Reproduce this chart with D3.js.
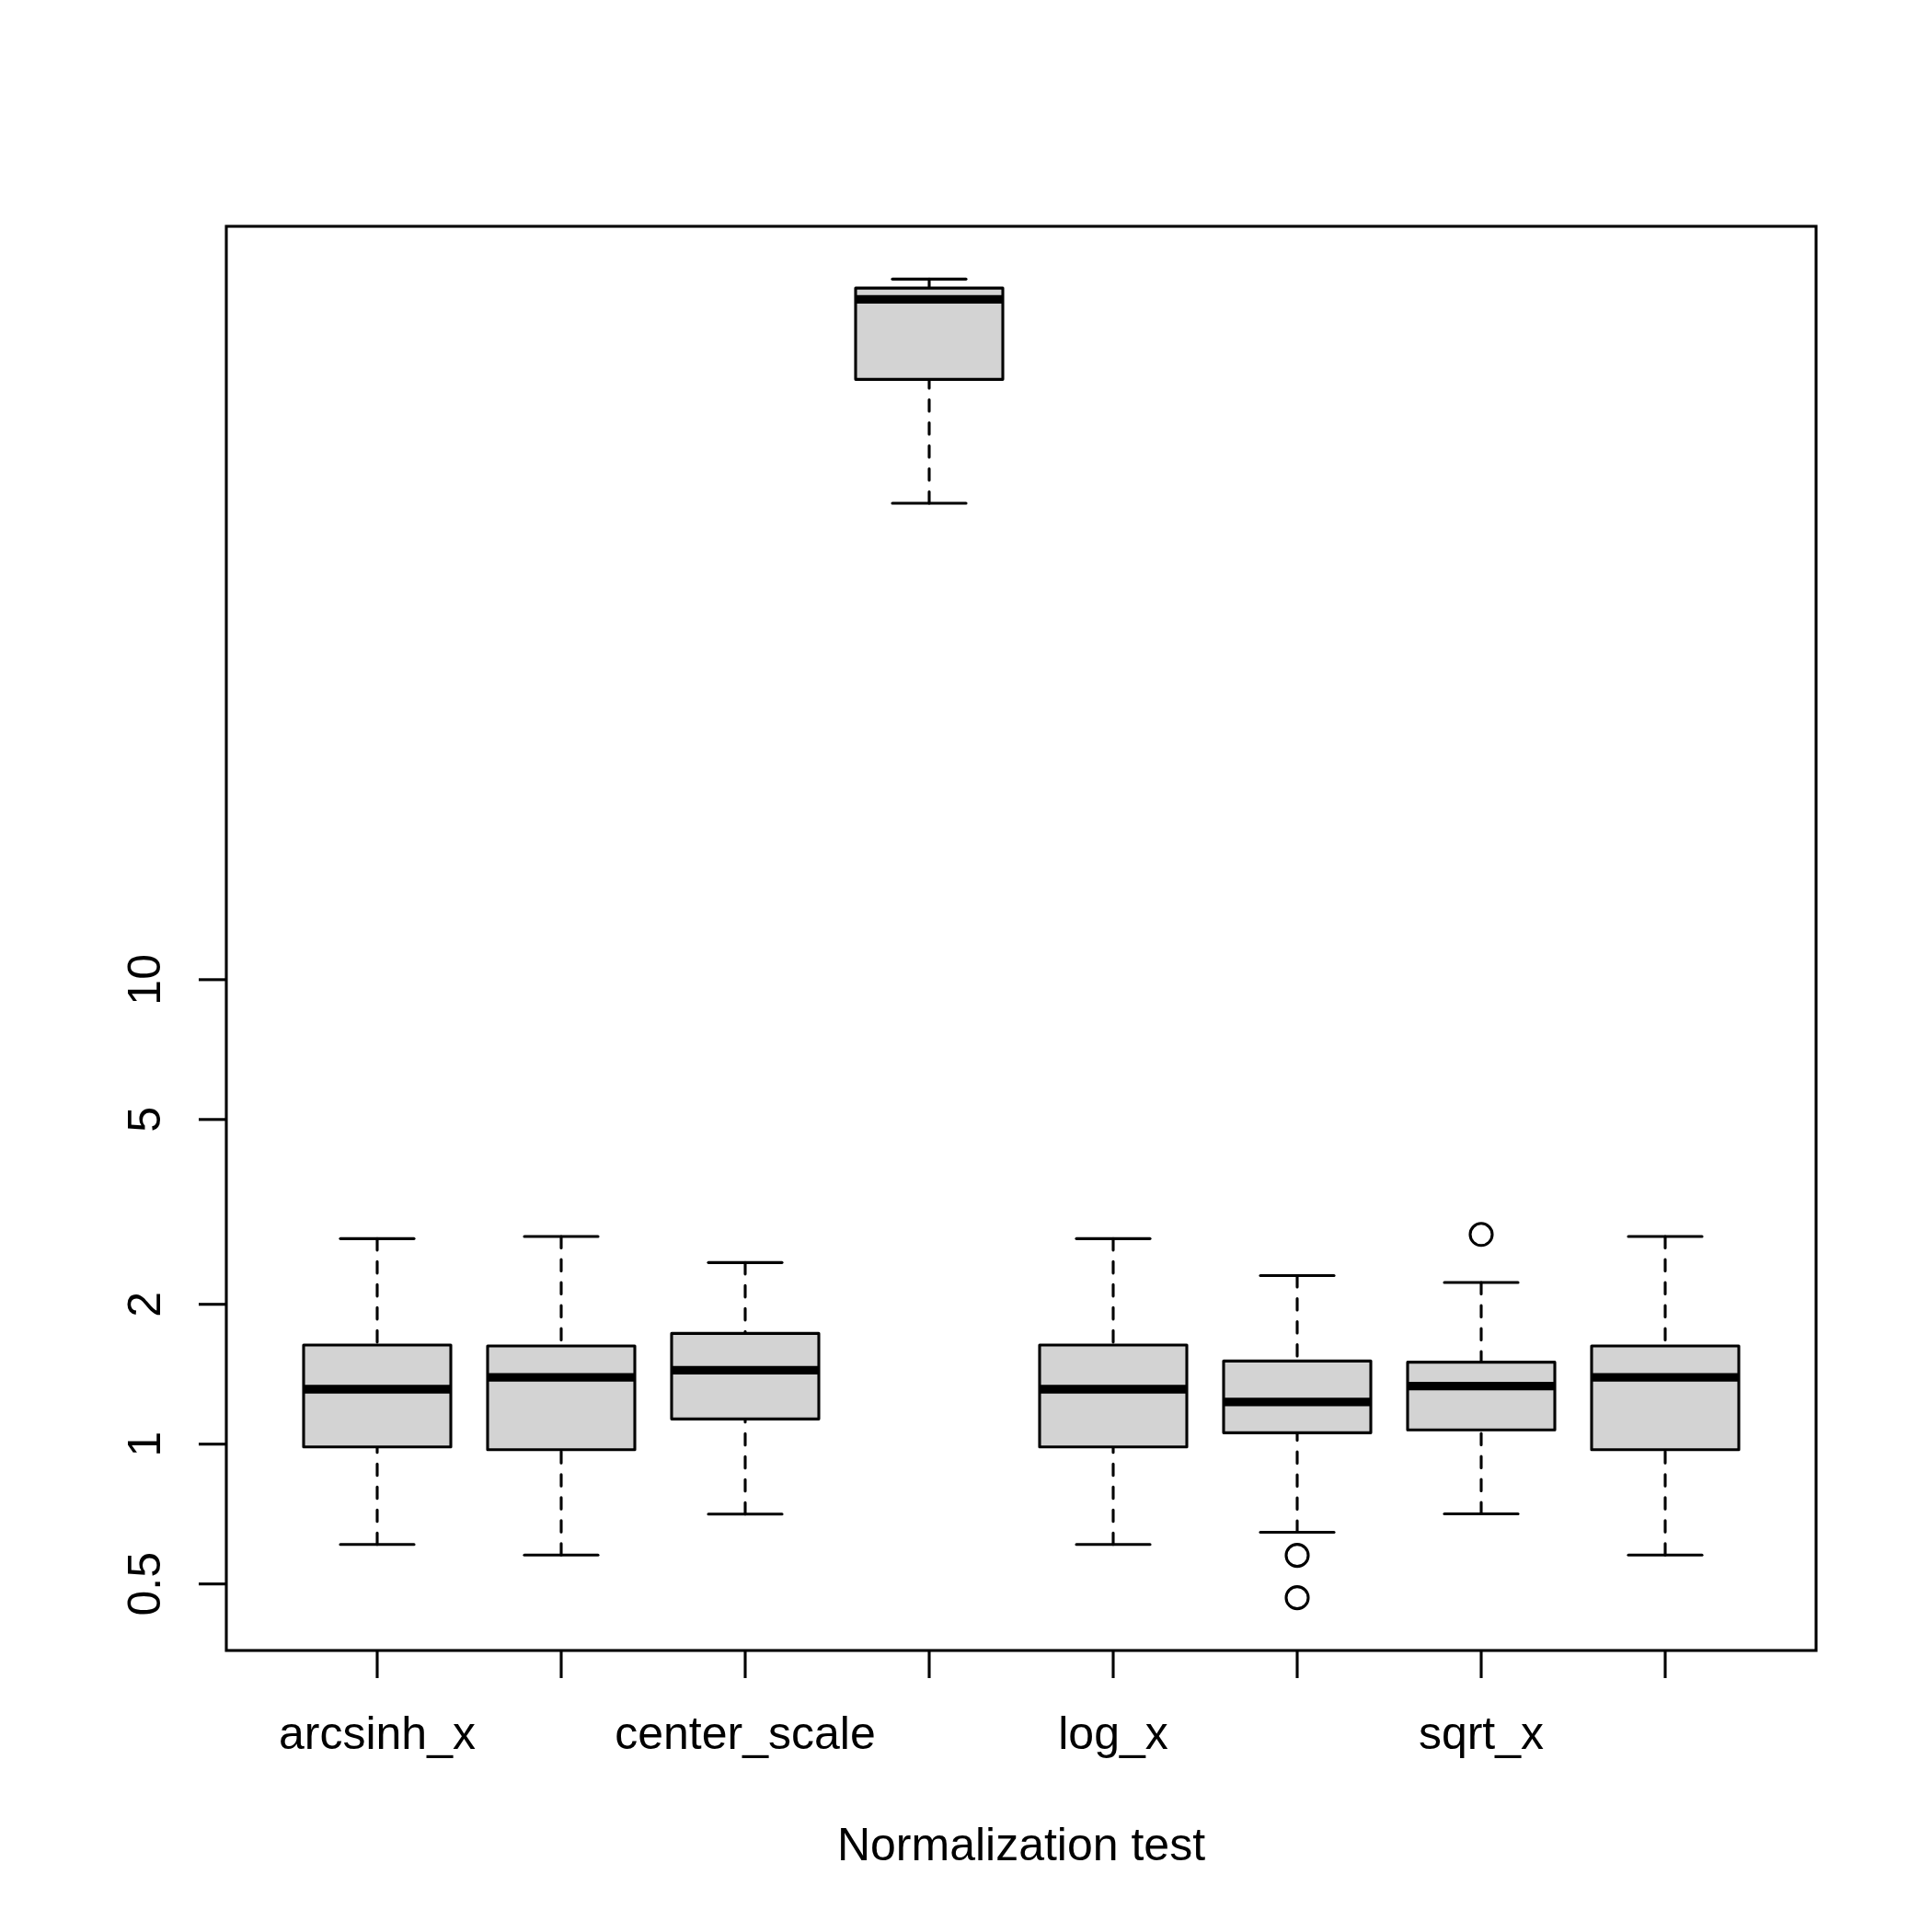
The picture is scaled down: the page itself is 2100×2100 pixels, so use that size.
<!DOCTYPE html>
<html>
<head>
<meta charset="utf-8">
<script src="https://cdn.jsdelivr.net/npm/d3@7"></script>
<style>
  html, body { margin: 0; padding: 0; background: #fff; }
  svg { display: block; }
</style>
</head>
<body>
<script>
// ---- data ----
const categories   = ["arcsinh_x", "", "center_scale", "", "log_x", "", "sqrt_x", ""];
const whiskerLow   = [0.608, 0.577, 0.707, 106.1, 0.608, 0.646, 0.708, 0.577];
const q1Values     = [0.986, 0.973, 1.133, 196.1, 0.986, 1.058, 1.073, 0.973];
const medianValues = [1.313, 1.393, 1.443, 291.6, 1.313, 1.233, 1.333, 1.393];
const q3Values     = [1.634, 1.627, 1.731, 308.3, 1.634, 1.510, 1.501, 1.627];
const whiskerHigh  = [2.77, 2.80, 2.46, 322.4, 2.77, 2.307, 2.228, 2.80];
const outlierGroup = [6, 6, 7];
const outlierValue = [0.576, 0.467, 2.828];
const yTickValues  = [0.5, 1, 2, 5, 10];
const yTickLabels  = ["0.5", "1", "2", "5", "10"];
const xTitle = "Normalization test";

(function () {
// ---- layout ----
const W = 2100, H = 2100;
const pLeft = 246, pRight = 1974, pTop = 246, pBottom = 1794;
const font = "'Liberation Sans', Arial, Helvetica, sans-serif";
const fs = 50;
const lw = 3.1;

const svg = d3.select("body").append("svg")
  .attr("width", W).attr("height", H)
  .attr("viewBox", `0 0 ${W} ${H}`);
svg.append("rect").attr("width", W).attr("height", H).attr("fill", "#fff");

const n = categories.length;
const x = d3.scaleLinear()
  .domain([0.5 - 0.04 * n, n + 0.5 + 0.04 * n])
  .range([pLeft, pRight]);

const allVals = [...whiskerLow, ...whiskerHigh, ...outlierValue];
const lmin = Math.log10(d3.min(allVals)), lmax = Math.log10(d3.max(allVals));
const ext = (lmax - lmin) * 0.04;
const y = d3.scaleLog()
  .domain([Math.pow(10, lmin - ext), Math.pow(10, lmax + ext)])
  .range([pBottom, pTop]);

const boxW = 0.8, stapleW = 0.4;
const g = svg.append("g");

d3.range(n).forEach(i => {
  const cx = x(i + 1);
  const bl = x(i + 1 - boxW / 2), br = x(i + 1 + boxW / 2);
  const sl = x(i + 1 - stapleW / 2), sr = x(i + 1 + stapleW / 2);
  [[whiskerLow[i], q1Values[i]], [whiskerHigh[i], q3Values[i]]].forEach(([a, b]) => {
    g.append("line")
      .attr("x1", cx).attr("x2", cx)
      .attr("y1", y(a)).attr("y2", y(b))
      .attr("stroke", "#000").attr("stroke-width", lw)
      .attr("stroke-dasharray", "12.5 12.5")
      .attr("stroke-linecap", "round");
  });
  [whiskerLow[i], whiskerHigh[i]].forEach(v => {
    g.append("line")
      .attr("x1", sl).attr("x2", sr)
      .attr("y1", y(v)).attr("y2", y(v))
      .attr("stroke", "#000").attr("stroke-width", lw)
      .attr("stroke-linecap", "round");
  });
  g.append("rect")
    .attr("x", bl).attr("y", y(q3Values[i]))
    .attr("width", br - bl).attr("height", y(q1Values[i]) - y(q3Values[i]))
    .attr("fill", "#D3D3D3").attr("stroke", "#000").attr("stroke-width", lw)
    .attr("stroke-linejoin", "round");
  g.append("line")
    .attr("x1", bl).attr("x2", br)
    .attr("y1", y(medianValues[i])).attr("y2", y(medianValues[i]))
    .attr("stroke", "#000").attr("stroke-width", lw * 3)
    .attr("stroke-linecap", "butt");
});

outlierValue.forEach((v, k) => {
  g.append("circle")
    .attr("cx", x(outlierGroup[k])).attr("cy", y(v))
    .attr("r", 12)
    .attr("fill", "none").attr("stroke", "#000").attr("stroke-width", lw);
});

svg.append("rect")
  .attr("x", pLeft).attr("y", pTop)
  .attr("width", pRight - pLeft).attr("height", pBottom - pTop)
  .attr("fill", "none").attr("stroke", "#000").attr("stroke-width", lw);

const xAxis = svg.append("g");
d3.range(n).forEach(i => {
  const px = x(i + 1);
  xAxis.append("line")
    .attr("x1", px).attr("x2", px)
    .attr("y1", pBottom).attr("y2", pBottom + 30)
    .attr("stroke", "#000").attr("stroke-width", lw);
  if (categories[i]) {
    xAxis.append("text")
      .attr("x", px).attr("y", pBottom + 107)
      .attr("text-anchor", "middle")
      .attr("font-family", font).attr("font-size", fs)
      .text(categories[i]);
  }
});
svg.append("text")
  .attr("x", (pLeft + pRight) / 2).attr("y", 2022)
  .attr("text-anchor", "middle")
  .attr("font-family", font).attr("font-size", fs)
  .text(xTitle);

const yAxis = svg.append("g");
yTickValues.forEach((v, k) => {
  const py = y(v);
  yAxis.append("line")
    .attr("x1", pLeft - 30).attr("x2", pLeft)
    .attr("y1", py).attr("y2", py)
    .attr("stroke", "#000").attr("stroke-width", lw);
  yAxis.append("text")
    .attr("transform", `translate(${pLeft - 72},${py}) rotate(-90)`)
    .attr("text-anchor", "middle")
    .attr("font-family", font).attr("font-size", fs)
    .text(yTickLabels[k]);
});
})();
</script>
</body>
</html>
